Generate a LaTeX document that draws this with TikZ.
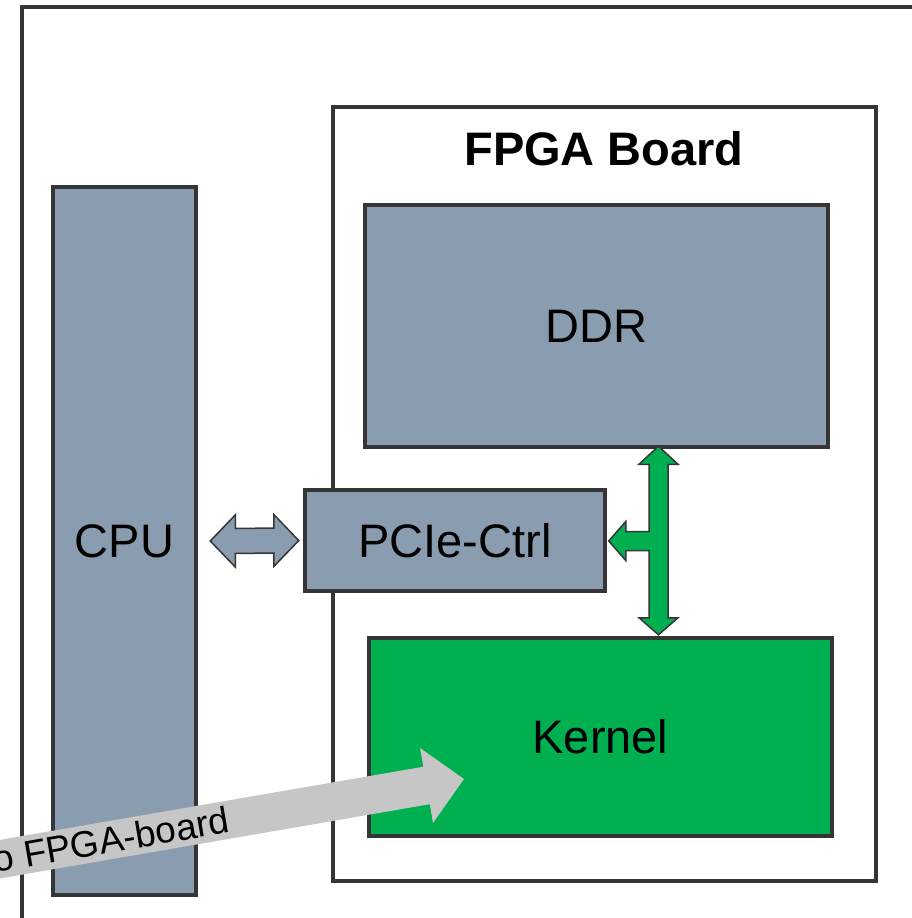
\documentclass[tikz,border=0pt]{standalone}
\usepackage{fontspec}
\setmainfont{Liberation Sans}
\usetikzlibrary{calc}
\definecolor{boxgray}{HTML}{8A9CAF}
\definecolor{kgreen}{HTML}{00B050}
\definecolor{edgec}{HTML}{353535}
\definecolor{arrgray}{HTML}{C6C6C6}
\begin{document}
\begin{tikzpicture}[x=1pt,y=-1pt,
  box/.style={draw=edgec, line width=4.5pt, fill=boxgray, inner sep=0pt,
    font=\fontsize{47}{56}\selectfont},
  kbox/.style={box, fill=kgreen},
  framebox/.style={draw=edgec, line width=4pt, fill=white, inner sep=0pt},
  titletext/.style={font=\fontsize{47}{56}\selectfont\bfseries, inner sep=0pt},
  dblarrow/.style={draw=edgec, line width=1.5pt, fill=boxgray, line join=miter},
  garrow/.style={draw=edgec, line width=1.5pt, fill=kgreen, line join=miter},
  bigarrow/.style={fill=arrgray, draw=none},
  arrlabel/.style={font=\fontsize{37}{44}\selectfont, inner sep=0pt}
]
\useasboundingbox (0,0) rectangle (912,918);
\clip (0,0) rectangle (912,918);
\fill[white] (0,0) rectangle (912,918);
% outer frame (extends beyond the picture)
\draw[edgec, line width=4pt] (22,7) rectangle (960,970);
% boxes
\node[framebox, minimum width=543pt, minimum height=774pt] (board) at (604.5,494) {};
\node[titletext] (title) at (604,149) {FPGA Board};
\node[box, minimum width=143pt, minimum height=708pt] (cpu) at (124.5,541) {CPU};
\node[box, minimum width=463pt, minimum height=242pt] (ddr) at (596.5,326) {DDR};
\node[box, minimum width=300pt, minimum height=101pt] (pcie) at (455,540.5) {PCIe-Ctrl};
\node[kbox, minimum width=463pt, minimum height=198pt] (kernel) at (600.5,737) {Kernel};
% CPU <-> PCIe double arrow
\coordinate (dl) at ($(cpu.east)+(12,0)$);
\coordinate (dr) at ($(pcie.west)+(-4,0)$);
\draw[dblarrow] (dl) -- ++(25,-26) -- ++(0,13.5) -- ($(dr)+(-25,-12.5)$) -- ++(0,-13.5)
  -- (dr) -- ++(-25,26) -- ++(0,-13.5) -- ($(dl)+(25,12.5)$) -- ++(0,13.5) -- cycle;
% green T arrow DDR <-> Kernel, -> PCIe
\coordinate (gt) at ($(ddr.south)+(62,-3)$);
\coordinate (gb) at ($(kernel.north)+(58,-1)$);
\coordinate (gl) at ($(pcie.east)+(1.5,0.5)$);
\draw[garrow] (gt) -- ++(19.5,18) -- ++(-10,0) -- ($(gb)+(9.5,-17)$) -- ++(10,0)
  -- (gb) -- ++(-19.5,-17) -- ++(10,0) -- ($(gt|-gl)+(-9.5,9.5)$)
  -- ($(gl)+(17,9.5)$) -- ++(0,10) -- (gl) -- ($(gl)+(17,-19.5)$) -- ++(0,10)
  -- ($(gt|-gl)+(-9.5,-9.5)$) -- ($(gt)+(-9.5,18)$) -- ++(-10,0) -- cycle;
% big grey arrow into the kernel
\coordinate (gtip) at (464,779);
\begin{scope}[shift={(gtip)}, rotate=9.8]
  \fill[bigarrow] (0,0) -- (-38,-38) -- (-38,-19) -- (-700,-19) -- (-700,19)
    -- (-38,19) -- (-38,38) -- cycle;
\end{scope}
\node[arrlabel, rotate=9.8, anchor=base east] (lbl) at (231,832) {to FPGA-board};
\end{tikzpicture}
\end{document}
